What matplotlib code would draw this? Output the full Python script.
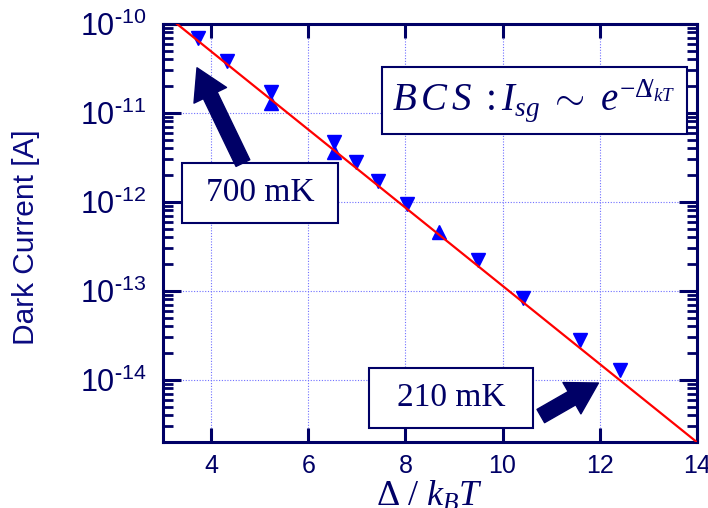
import matplotlib
matplotlib.use('Agg')
import matplotlib.pyplot as plt
import numpy as np
from matplotlib.patches import Rectangle
from matplotlib.ticker import LogLocator, FuncFormatter, NullFormatter

plt.rcParams['font.family'] = 'Liberation Sans'
plt.rcParams['mathtext.fontset'] = 'custom'
plt.rcParams['mathtext.rm'] = 'Liberation Serif'
plt.rcParams['mathtext.it'] = 'Liberation Serif:italic'
plt.rcParams['mathtext.default'] = 'it'

navy = '#000066'

# measured points (Delta / k_B T, dark current in A)
x_down = [3.73, 4.33, 5.22, 6.53, 6.98, 7.44, 8.04, 9.49, 10.42, 11.60, 12.43]
i_down = [6.9e-11, 3.8e-11, 1.7e-11, 4.7e-12, 2.8e-12, 1.7e-12, 9.5e-13,
          2.2e-13, 8.3e-14, 2.8e-14, 1.3e-14]
x_up = [5.22, 6.53, 8.70]
i_up = [1.3e-11, 3.6e-12, 4.6e-13]

# BCS fit line
x_fit = [3.29, 14.0]
i_fit = [1.0e-10, 2.0e-15]

fig = plt.figure(figsize=(7.08, 5.08), dpi=100)
ax = fig.add_axes([0.230, 0.130, 0.754, 0.823])

ax.plot(x_down, i_down, 'v', color='#0000ff', ms=10, zorder=3)
ax.plot(x_up, i_up, '^', color='#0000ff', ms=10, zorder=3)
ax.plot(x_fit, i_fit, '-', color='#ff0000', lw=1.6, zorder=4)

ax.set_yscale('log')
ax.set_xlim(3, 14)
ax.set_ylim(2e-15, 1e-10)
ax.set_xticks([4, 6, 8, 10, 12, 14])


def dec_fmt(v, pos):
    e = int(round(np.log10(v)))
    return r'$\mathregular{10^{\text{-}%d}}$' % (-e)


ax.yaxis.set_major_locator(LogLocator(base=10, numticks=10))
ax.yaxis.set_major_formatter(FuncFormatter(dec_fmt))
ax.yaxis.set_minor_locator(LogLocator(base=10, subs=range(2, 10), numticks=10))
ax.yaxis.set_minor_formatter(NullFormatter())

ax.grid(True, which='major', color='#7070ff', linestyle=(0, (1, 1.5)), lw=0.8)
for s in ax.spines.values():
    s.set_color(navy)
    s.set_linewidth(2.2)
ax.tick_params(which='major', direction='in', length=10, width=2.2, color=navy,
               top=True, right=True, labelcolor=navy)
ax.tick_params(axis='x', which='major', labelsize=18, pad=9)
ax.tick_params(axis='y', which='major', length=13, labelsize=22, pad=12)
ax.tick_params(axis='y', which='minor', direction='in', length=7, width=2,
               color=navy, left=True, right=True)

ax.set_ylabel('Dark Current [A]', fontsize=21.5, color='#0a0a80')
ax.yaxis.set_label_coords(-0.230, 0.49)
fig.text(0.607, 0.057, r'$\mathrm{\Delta}\ /\ k_{B}T$', fontsize=26, color=navy,
         ha='center', va='top')

# annotation boxes
def box(x0, y0, x1, y1, txt, size):
    ax.add_patch(Rectangle((x0, y0), x1 - x0, y1 - y0, transform=ax.transAxes,
                           facecolor='white', edgecolor=navy, lw=1.5, zorder=5))
    ax.text((x0 + x1) / 2, (y0 + y1) / 2, txt, transform=ax.transAxes,
            ha='center', va='center', fontsize=size, color=navy,
            family='Liberation Serif', zorder=6)

box(0.036, 0.524, 0.328, 0.667, '700 mK', 24)
box(0.386, 0.034, 0.693, 0.177, '210 mK', 24)
box(0.410, 0.737, 0.981, 0.897,
    r'$B\,C\,S\ :I_{sg}\ \sim\ e^{-\mathrm{\Delta}\!\!/_{kT}}$', 28)

arrow = dict(arrowstyle='simple,head_width=1.3,head_length=1.1,tail_width=0.55',
             color=navy, mutation_scale=20, shrinkA=0, shrinkB=0)
ax.annotate('', xy=(0.064, 0.895), xytext=(0.150, 0.667),
            xycoords='axes fraction', textcoords='axes fraction',
            arrowprops=arrow, zorder=6)
ax.annotate('', xy=(0.816, 0.141), xytext=(0.708, 0.062),
            xycoords='axes fraction', textcoords='axes fraction',
            arrowprops=arrow, zorder=6)

fig.savefig('out.png', dpi=100)
